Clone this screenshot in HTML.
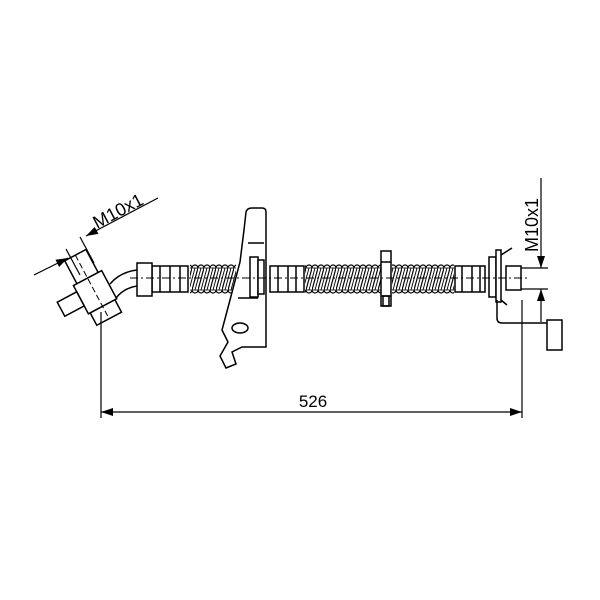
<!DOCTYPE html>
<html><head><style>body{margin:0;background:#fff}svg{display:block}</style></head><body>
<svg width="600" height="600" viewBox="0 0 600 600" xmlns="http://www.w3.org/2000/svg" font-family="Liberation Sans, sans-serif">
<defs>
<pattern id="coil" x="0" y="262" width="6" height="34" patternUnits="userSpaceOnUse">
<rect x="0" y="0" width="6" height="34" fill="#fff"/>
<path d="M0,6 A3,3 0 0 1 6,6" fill="none" stroke="#000" stroke-width="1.2"/>
<path d="M0,28 A3,3 0 0 0 6,28" fill="none" stroke="#000" stroke-width="1.2"/>
<line x1="0" y1="6" x2="6" y2="6" stroke="#000" stroke-width="0.8"/>
<line x1="0" y1="28" x2="6" y2="28" stroke="#000" stroke-width="0.8"/>
<line x1="0" y1="28" x2="6" y2="6" stroke="#000" stroke-width="1.2"/>
<line x1="3" y1="28" x2="9" y2="6" stroke="#000" stroke-width="0.9"/>
<line x1="-3" y1="28" x2="3" y2="6" stroke="#000" stroke-width="0.9"/>
</pattern>
<marker id="ar" markerWidth="12" markerHeight="8" refX="12" refY="4" orient="auto" markerUnits="userSpaceOnUse"><path d="M0,0L12,4L0,8z" fill="#000"/></marker>
</defs>
<g stroke="#000" stroke-width="1.5" fill="none">
<rect x="190" y="262" width="46" height="34" fill="url(#coil)" stroke="none"/>
<rect x="305" y="262" width="76" height="34" fill="url(#coil)" stroke="none"/>
<rect x="392" y="262" width="62" height="34" fill="url(#coil)" stroke="none"/>
<rect x="152" y="266" width="36" height="26" fill="#fff"/>
<line x1="160" y1="266" x2="160" y2="292"/><line x1="170" y1="266" x2="170" y2="292"/><line x1="180" y1="266" x2="180" y2="292"/>
<rect x="270" y="266" width="34" height="26" fill="#fff"/>
<line x1="278" y1="266" x2="278" y2="292"/><line x1="288" y1="266" x2="288" y2="292"/><line x1="296" y1="266" x2="296" y2="292"/>
<rect x="455" y="266" width="30" height="26" fill="#fff"/>
<line x1="462" y1="266" x2="462" y2="292"/><line x1="472" y1="266" x2="472" y2="292"/><line x1="480" y1="266" x2="480" y2="292"/>
<rect x="137" y="263" width="15" height="33" fill="#fff"/>
<path d="M137,270 Q120,272 110,284 M137,286 Q124,288 116,298"/>
<path d="M246,212 Q247,208 252,208 L262,208 Q266,208 266,212 L266,347 L242,347 L232,352 L236,364 L226,368 L220,356 L228,342 L222,330 L230,300 L240,262 L244,230 Z" fill="#fff"/>
<line x1="248" y1="243" x2="264" y2="243"/><line x1="238" y1="298" x2="258" y2="298"/>
<ellipse cx="240" cy="328" rx="8" ry="5"/>
<rect x="250" y="257" width="8" height="40" fill="#fff"/>
<rect x="258" y="260" width="6" height="34" fill="#fff"/>
<rect x="381" y="251" width="10" height="55" fill="#fff"/>
<line x1="381" y1="262" x2="391" y2="262"/><line x1="381" y1="296" x2="391" y2="296"/>
<rect x="383" y="296" width="6" height="10"/>
<rect x="489" y="257" width="7" height="40" fill="#fff"/>
<rect x="496" y="250" width="5" height="52" fill="#fff"/>
<path d="M501,255 L512,248 M501,300 L507,305"/>
<rect x="506" y="266" width="15" height="24" fill="#fff"/>
<path d="M497,300 L497,318 Q497,323 502,323 L547,323"/>
<rect x="547" y="320" width="15" height="30" fill="#fff"/>
<g transform="rotate(-28 95 290)">
<rect x="82" y="250" width="24" height="26" fill="#fff"/>
<rect x="78" y="276" width="32" height="32" fill="#fff"/>
<rect x="80" y="308" width="28" height="14" fill="#fff"/>
<rect x="56" y="283" width="22" height="16" fill="#fff"/>
<line x1="94" y1="250" x2="94" y2="322" stroke-width="1" stroke-dasharray="6,3"/>
</g>
</g>
<g stroke="#000" stroke-width="1" stroke-dasharray="8,3,2,3">
<line x1="130" y1="278" x2="530" y2="278"/>
</g>
<g stroke="#000" stroke-width="1.2" fill="none">
<line x1="101" y1="312" x2="101" y2="418"/>
<line x1="522" y1="300" x2="522" y2="418"/>
<line x1="300" y1="412" x2="522" y2="412" marker-end="url(#ar)"/>
<line x1="300" y1="412" x2="101" y2="412" marker-end="url(#ar)"/>
<line x1="521" y1="268" x2="548" y2="268"/>
<line x1="521" y1="289" x2="548" y2="289"/>
<line x1="541" y1="178" x2="541" y2="268" marker-end="url(#ar)"/>
<line x1="541" y1="322" x2="541" y2="289" marker-end="url(#ar)"/>
<line x1="34" y1="275" x2="68" y2="258" marker-end="url(#ar)"/>
<line x1="158" y1="198" x2="86" y2="236" marker-end="url(#ar)"/>
<line x1="66" y1="249" x2="80" y2="275"/>
<line x1="80" y1="237" x2="94" y2="263"/>
</g>
<text x="313" y="407" font-size="17" text-anchor="middle">526</text>
<text transform="translate(538,252) rotate(-90)" font-size="18">M10x1</text>
<text transform="translate(97,229) rotate(-28)" font-size="18">M10x1</text>
</svg>
</body></html>
